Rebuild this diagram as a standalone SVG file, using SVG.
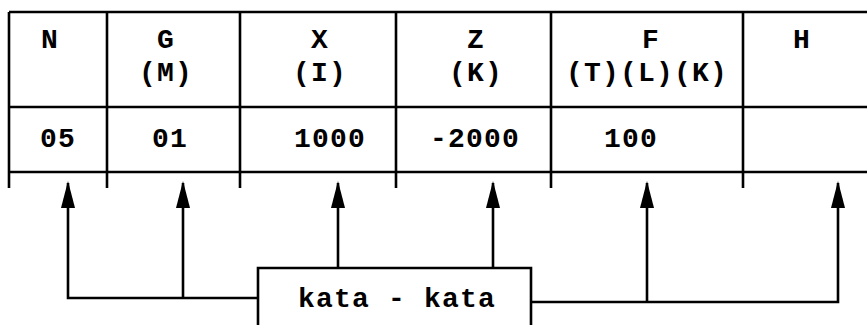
<svg xmlns="http://www.w3.org/2000/svg" width="867" height="325" viewBox="0 0 867 325">
<style>
.ln{stroke:#000;stroke-width:2.6;fill:none}
.t{font-family:"Liberation Mono","DejaVu Sans Mono",monospace;font-weight:bold;font-size:28px;letter-spacing:1.2px;text-anchor:middle;fill:#000}
</style>
<defs>
<marker id="ah" markerWidth="16" markerHeight="28" refX="8" refY="2" orient="0" markerUnits="userSpaceOnUse">
<path d="M8,0 L15,27 L1,27 Z" fill="#000"/>
</marker>
</defs>
<rect width="867" height="325" fill="#fff"/>
<g id="table">
<path class="ln" d="M9,12 H867 M9,107 H867 M9,172 H867 M9,12 V188 M107,12 V188 M240,12 V188 M396,12 V188 M551,12 V188 M743,12 V188"/>
<text class="t" x="50" y="48">N</text>
<text class="t" x="166" y="48">G</text>
<text class="t" x="166" y="81">(M)</text>
<text class="t" x="320" y="48">X</text>
<text class="t" x="320" y="81">(I)</text>
<text class="t" x="476" y="48">Z</text>
<text class="t" x="476" y="81">(K)</text>
<text class="t" x="651" y="48">F</text>
<text class="t" x="647" y="81">(T)(L)(K)</text>
<text class="t" x="802" y="48">H</text>
<text class="t" x="58" y="147">05</text>
<text class="t" x="170" y="147">01</text>
<text class="t" x="330" y="147">1000</text>
<text class="t" x="475" y="147">-2000</text>
<text class="t" x="631" y="147">100</text>
</g>
<g id="kata">
<path class="ln" d="M258,335 V268 H531 V335"/>
<text class="t" x="397" y="307">kata - kata</text>
</g>
<g id="connectors">
<path class="ln" d="M258,298 H68 V183" marker-end="url(#ah)"/>
<path class="ln" d="M183,298 V183" marker-end="url(#ah)"/>
<path class="ln" d="M338,268 V183" marker-end="url(#ah)"/>
<path class="ln" d="M493,268 V183" marker-end="url(#ah)"/>
<path class="ln" d="M531,302 H838 V183" marker-end="url(#ah)"/>
<path class="ln" d="M647,302 V183" marker-end="url(#ah)"/>
</g>
</svg>
